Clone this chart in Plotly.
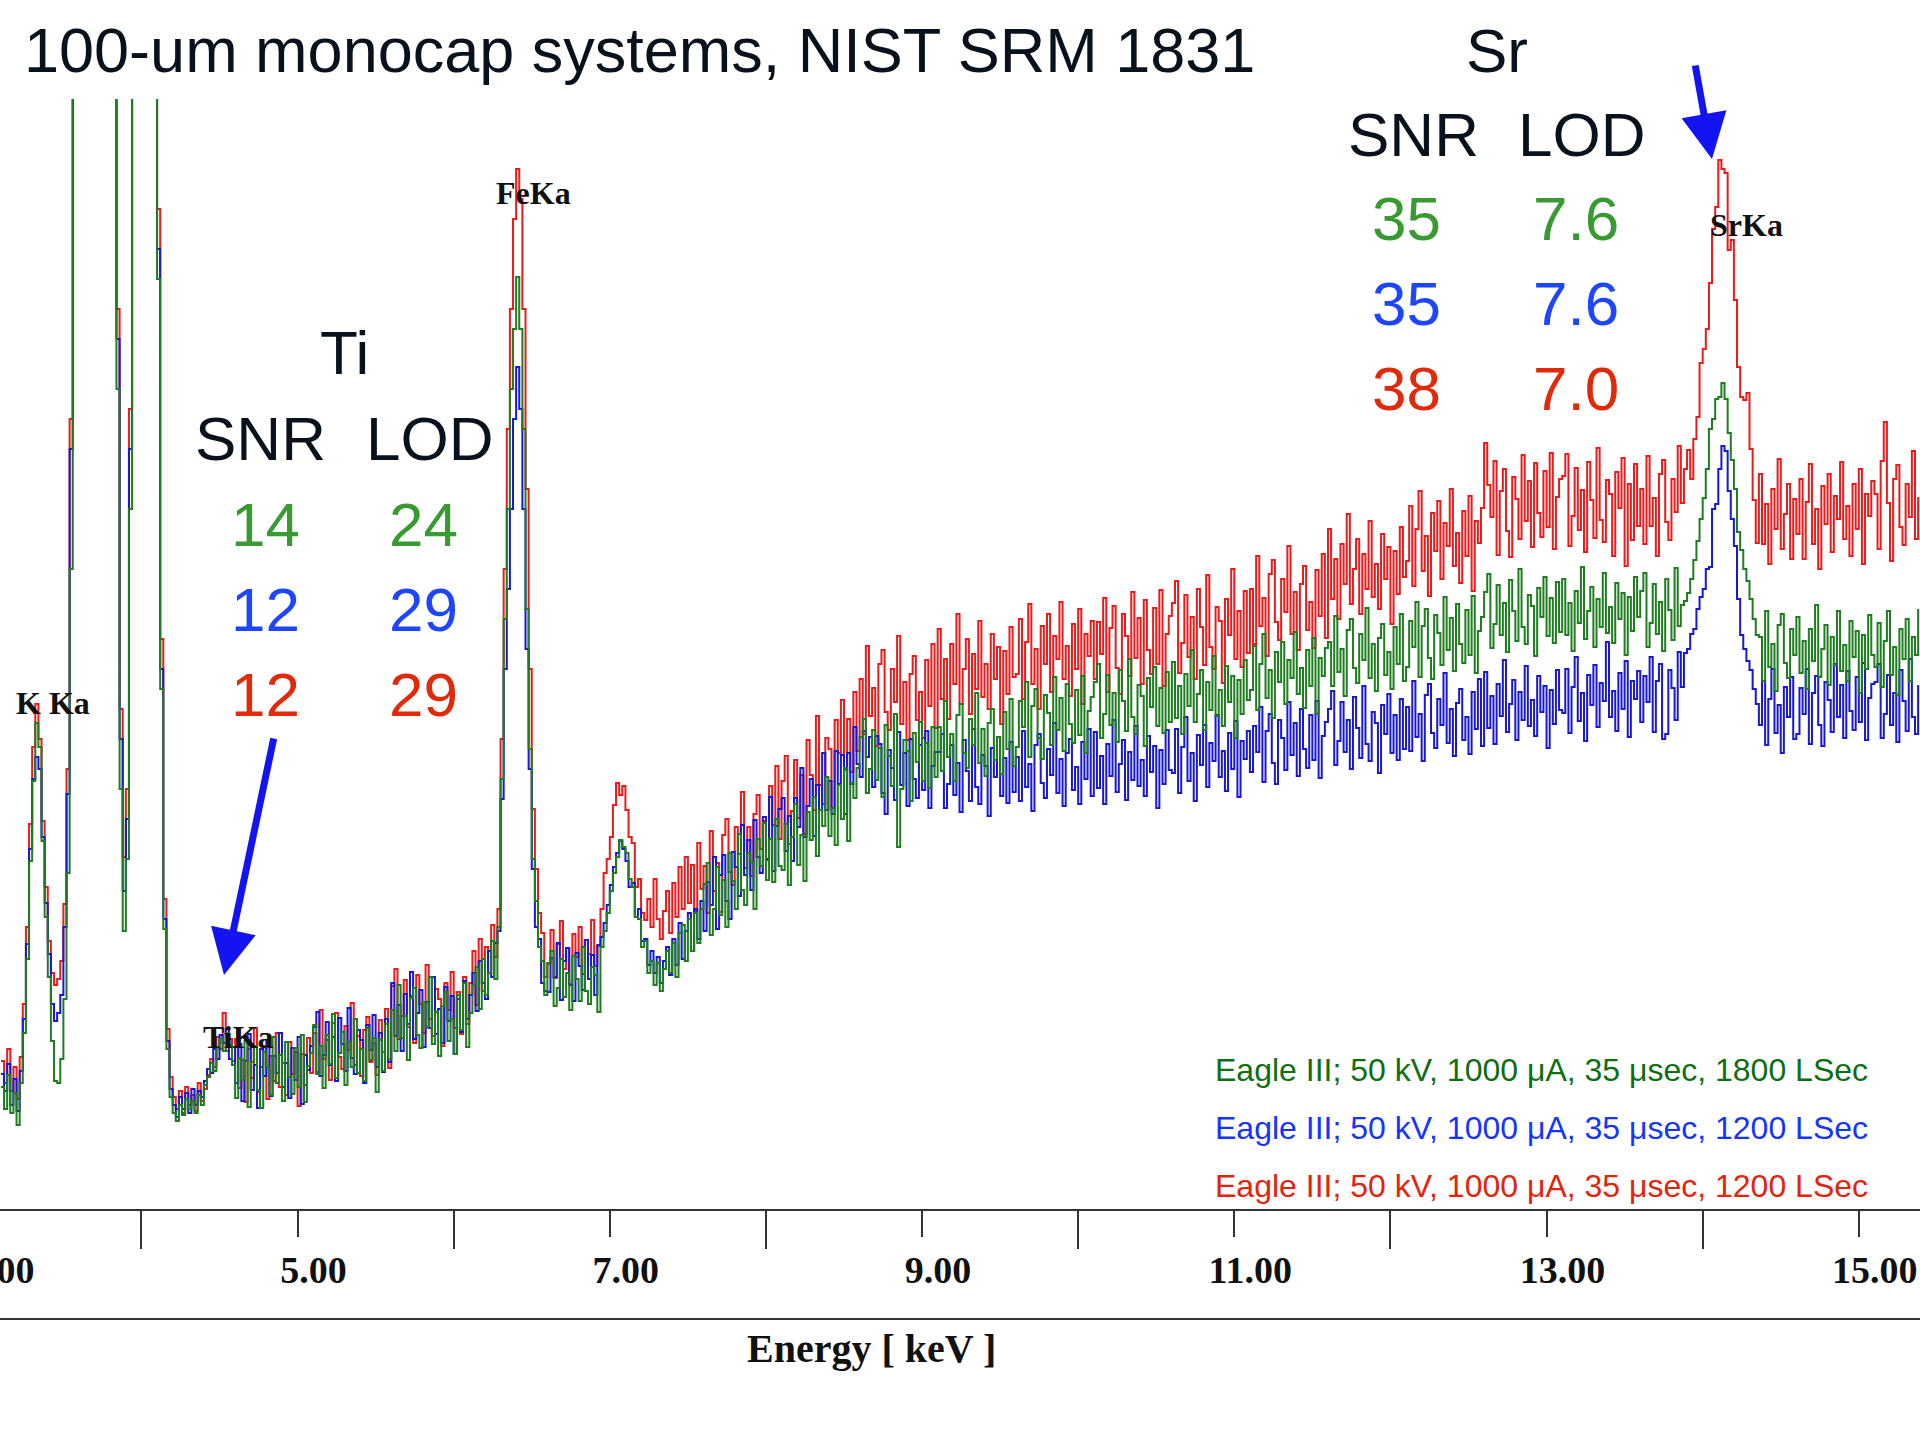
import numpy as np
import plotly.graph_objects as go

# Channel calibration of the three spectra (keV)
E_START = 3.10
E_STEP = 0.02

# Counts per channel, 3.10 keV .. 15.38 keV, one row per 0.5 keV
red_counts = [
    148, 126, 160, 118, 142, 110, 152, 205, 282, 385, 462, 505, 470, 388, 322, 268, 236, 224, 230, 248, 305, 440, 790, 1300, 1850,
    2500, 3200, 3800, 4200, 4350, 4250, 3900, 3400, 2800, 2200, 1700, 1280, 900, 500, 352, 420, 800, 1350, 1800, 2100, 2250, 2200, 1950, 1650, 1300,
    1000, 570, 310, 180, 132, 112, 100, 118, 96, 122, 104, 114, 98, 126, 108, 120, 134, 150, 142, 172, 160, 196, 158, 170, 148,
    170, 121, 149, 107, 160, 131, 181, 117, 142, 163, 110, 153, 128, 176, 122, 146, 114, 167, 135, 157, 103, 155, 124, 171, 136,
    176, 137, 199, 150, 169, 129, 186, 196, 152, 140, 183, 159, 206, 144, 173, 133, 179, 192, 147, 166, 134, 189, 157, 200, 141,
    223, 240, 170, 193, 229, 182, 213, 166, 234, 205, 176, 244, 190, 173, 220, 210, 163, 226, 199, 237, 181, 217, 175, 232, 185,
    226, 258, 204, 270, 218, 262, 236, 284, 252, 300, 470, 640, 780, 900, 990, 1040, 1010, 900, 720, 540, 400, 340, 296, 276, 232,
    246, 279, 231, 265, 288, 240, 261, 225, 275, 252, 282, 235, 269, 255, 289, 243, 263, 300, 336, 350, 372, 404, 426, 414, 423,
    399, 372, 366, 322, 330, 296, 289, 310, 282, 330, 290, 270, 298, 318, 276, 326, 292, 342, 300, 352, 306, 344, 298, 366, 320,
    343, 296, 378, 318, 346, 297, 374, 390, 337, 324, 382, 355, 417, 341, 382, 333, 395, 414, 360, 388, 349, 423, 384, 443, 370,
    428, 453, 365, 398, 449, 391, 434, 375, 469, 434, 399, 493, 424, 405, 471, 460, 401, 489, 456, 509, 439, 490, 437, 517, 458,
    530, 475, 563, 493, 521, 463, 545, 559, 497, 479, 540, 507, 573, 485, 527, 469, 535, 553, 489, 517, 471, 549, 503, 565, 481,
    580, 510, 550, 490, 565, 525, 595, 505, 540, 570, 495, 555, 520, 588, 512, 545, 500, 575, 530, 562, 485, 558, 515, 582, 532,
    535, 590, 510, 567, 605, 525, 560, 500, 583, 545, 595, 517, 573, 550, 607, 530, 563, 513, 585, 540, 600, 505, 575, 553, 588,
    530, 587, 555, 611, 517, 581, 603, 541, 515, 595, 573, 533, 617, 551, 591, 525, 609, 559, 535, 601, 545, 619, 523, 575, 593,
    606, 628, 536, 566, 614, 552, 592, 530, 620, 582, 544, 634, 562, 540, 602, 588, 526, 610, 574, 640, 550, 598, 542, 618, 556,
    620, 565, 653, 583, 611, 553, 635, 649, 587, 569, 630, 597, 663, 575, 617, 559, 625, 643, 579, 607, 561, 639, 593, 655, 571,
    680, 610, 650, 590, 665, 625, 695, 605, 640, 670, 595, 655, 620, 688, 612, 645, 600, 675, 630, 662, 585, 658, 615, 682, 632,
    648, 703, 623, 680, 718, 638, 673, 613, 696, 658, 708, 630, 686, 663, 720, 643, 676, 626, 698, 653, 713, 618, 688, 666, 701,
    766, 724, 692, 748, 654, 718, 740, 678, 652, 732, 710, 670, 754, 688, 728, 662, 746, 696, 672, 738, 682, 756, 660, 712, 730,
    733, 755, 663, 693, 741, 679, 719, 657, 747, 709, 671, 761, 689, 667, 729, 715, 653, 737, 701, 751, 643, 725, 669, 745, 683,
    720, 665, 753, 683, 711, 653, 735, 749, 687, 669, 730, 697, 763, 706, 740, 759, 730, 770, 792, 846, 860, 880, 926, 980, 1002,
    1049, 1040, 1036, 959, 969, 909, 842, 812, 809, 816, 760, 709, 666, 735, 665, 705, 645, 720, 680, 750, 660, 695, 725, 650, 710,
    675, 730, 650, 707, 745, 665, 700, 640, 723, 685, 735, 657, 713, 690, 747, 670, 703, 653, 725, 680, 740, 645, 715, 693, 728,
    715, 660, 748, 787, 706, 648, 730, 744, 682, 664, 725, 692, 758, 670, 712,
]

blue_counts = [
    135, 118, 145, 104, 130, 98, 138, 190, 265, 360, 430, 452, 440, 372, 306, 255, 205, 188, 196, 214, 282, 415, 760, 1250, 1800,
    2450, 3150, 3750, 4150, 4300, 4200, 3850, 3350, 2750, 2150, 1650, 1250, 870, 470, 318, 390, 760, 1300, 1750, 2050, 2200, 2150, 1900, 1600, 1260,
    960, 540, 290, 168, 120, 104, 92, 112, 100, 116, 96, 120, 104, 118, 112, 128, 140, 136, 160, 150, 174, 166, 180, 150, 162,
    126, 165, 108, 148, 175, 119, 144, 101, 160, 133, 168, 113, 153, 136, 176, 122, 146, 111, 161, 129, 172, 105, 154, 139, 163,
    182, 197, 133, 154, 187, 144, 172, 128, 191, 165, 138, 201, 151, 135, 179, 169, 126, 184, 159, 194, 142, 176, 137, 190, 147,
    226, 173, 204, 158, 215, 185, 237, 170, 196, 219, 162, 207, 181, 232, 175, 200, 166, 222, 188, 213, 155, 210, 177, 228, 190,
    214, 236, 198, 248, 226, 210, 258, 232, 266, 278, 410, 540, 620, 700, 790, 842, 800, 700, 560, 440, 340, 282, 270, 226, 218,
    217, 251, 232, 266, 209, 248, 261, 224, 208, 256, 243, 219, 269, 230, 254, 214, 264, 272, 286, 304, 324, 342, 356, 368, 360,
    348, 322, 326, 292, 300, 268, 270, 244, 258, 236, 252, 226, 248, 262, 234, 270, 244, 286, 250, 278, 296, 258, 300, 270, 308,
    278, 327, 304, 352, 280, 334, 354, 308, 290, 357, 342, 313, 384, 334, 369, 319, 389, 352, 336, 392, 350, 412, 338, 383, 400,
    411, 358, 393, 348, 411, 382, 441, 372, 403, 430, 373, 424, 399, 456, 399, 428, 395, 458, 425, 454, 395, 456, 425, 482, 445,
    432, 478, 452, 472, 422, 473, 465, 416, 395, 459, 441, 409, 477, 424, 456, 403, 470, 430, 411, 464, 419, 478, 401, 443, 457,
    457, 475, 401, 425, 464, 414, 446, 397, 469, 438, 408, 480, 422, 405, 454, 443, 393, 461, 432, 472, 413, 451, 406, 467, 417,
    452, 408, 478, 422, 445, 398, 464, 475, 426, 411, 460, 434, 486, 416, 450, 403, 456, 470, 419, 442, 405, 467, 430, 480, 413,
    477, 421, 453, 405, 465, 433, 489, 417, 445, 469, 409, 457, 429, 483, 423, 449, 413, 473, 437, 463, 401, 459, 425, 479, 439,
    436, 480, 416, 462, 492, 428, 456, 408, 474, 444, 484, 422, 466, 448, 494, 432, 458, 418, 476, 440, 488, 412, 468, 450, 478,
    437, 483, 457, 502, 427, 478, 495, 446, 425, 489, 471, 439, 507, 454, 486, 433, 500, 460, 441, 494, 449, 508, 431, 473, 487,
    500, 518, 444, 468, 507, 457, 489, 440, 512, 481, 451, 523, 465, 448, 497, 486, 436, 504, 475, 515, 456, 494, 449, 510, 460,
    502, 458, 528, 472, 495, 448, 514, 525, 476, 461, 510, 484, 536, 466, 500, 453, 506, 520, 469, 492, 455, 517, 480, 530, 463,
    537, 481, 513, 465, 525, 493, 549, 477, 505, 529, 469, 517, 489, 543, 483, 509, 473, 533, 497, 523, 461, 519, 485, 539, 499,
    496, 540, 476, 522, 552, 488, 516, 468, 534, 504, 544, 482, 526, 508, 567, 492, 518, 478, 536, 500, 548, 472, 528, 510, 538,
    487, 533, 507, 552, 477, 528, 545, 470, 475, 539, 521, 489, 557, 522, 556, 560, 575, 580, 600, 612, 620, 640, 642, 700, 705,
    740, 763, 758, 718, 690, 663, 610, 574, 560, 548, 539, 520, 505, 484, 528, 464, 510, 540, 476, 504, 456, 522, 492, 532, 470,
    475, 521, 495, 540, 465, 516, 533, 484, 463, 527, 509, 477, 545, 492, 524, 471, 538, 498, 479, 532, 487, 546, 469, 511, 525,
    527, 545, 471, 495, 534, 484, 516, 467, 539, 508, 478, 550, 492, 475, 524,
]

green_counts = [
    122, 100, 134, 96, 116, 84, 126, 176, 250, 348, 428, 486, 462, 368, 292, 232, 168, 128, 126, 150, 210, 336, 640, 1120, 1700,
    2400, 3100, 3700, 4100, 4250, 4150, 3800, 3300, 2700, 2100, 1600, 1200, 820, 420, 278, 350, 700, 1250, 1700, 2000, 2150, 2100, 1850, 1550, 1220,
    930, 520, 280, 160, 112, 96, 88, 104, 94, 110, 100, 108, 96, 114, 104, 124, 132, 146, 138, 162, 170, 158, 176, 164, 144,
    111, 151, 129, 168, 102, 147, 163, 119, 101, 157, 142, 114, 172, 126, 154, 108, 167, 132, 115, 161, 122, 174, 107, 143, 156,
    184, 135, 163, 121, 174, 145, 195, 131, 156, 177, 124, 167, 142, 190, 136, 160, 128, 181, 149, 171, 117, 169, 138, 185, 150,
    199, 158, 224, 171, 193, 149, 211, 221, 174, 161, 207, 182, 232, 165, 197, 153, 203, 217, 168, 190, 155, 214, 179, 226, 162,
    196, 224, 242, 200, 250, 214, 236, 268, 230, 282, 430, 590, 700, 820, 880, 932, 880, 780, 600, 460, 350, 308, 262, 248, 214,
    245, 258, 203, 221, 250, 212, 236, 199, 253, 230, 208, 262, 218, 205, 242, 234, 197, 262, 278, 296, 318, 336, 352, 369, 362,
    356, 330, 322, 292, 290, 262, 268, 236, 248, 224, 246, 218, 240, 258, 236, 266, 232, 276, 284, 248, 290, 258, 296, 266, 300,
    325, 346, 274, 300, 342, 294, 329, 282, 356, 328, 300, 375, 319, 304, 356, 347, 300, 370, 343, 386, 329, 370, 327, 390, 343,
    339, 385, 324, 372, 405, 344, 374, 328, 397, 369, 412, 353, 399, 383, 432, 373, 401, 364, 424, 390, 441, 368, 426, 411, 441,
    472, 490, 416, 440, 479, 429, 461, 412, 484, 453, 423, 495, 362, 420, 469, 458, 408, 476, 447, 487, 428, 466, 421, 482, 432,
    482, 438, 508, 452, 475, 428, 494, 505, 456, 441, 490, 464, 516, 446, 480, 433, 486, 500, 449, 472, 435, 497, 460, 510, 443,
    462, 508, 482, 527, 452, 503, 520, 471, 450, 514, 496, 464, 532, 479, 511, 458, 525, 485, 466, 519, 474, 533, 456, 498, 512,
    527, 545, 471, 495, 534, 484, 516, 467, 539, 508, 478, 550, 492, 475, 524, 513, 463, 531, 502, 542, 483, 521, 476, 537, 487,
    547, 491, 523, 475, 535, 503, 559, 487, 515, 539, 479, 527, 499, 553, 493, 519, 483, 543, 507, 533, 471, 529, 495, 549, 509,
    519, 563, 499, 545, 575, 511, 539, 491, 557, 527, 567, 505, 549, 531, 577, 515, 541, 501, 559, 523, 571, 495, 551, 533, 561,
    567, 523, 593, 537, 560, 513, 579, 590, 541, 526, 575, 549, 601, 531, 565, 518, 571, 585, 534, 557, 520, 582, 545, 595, 528,
    542, 588, 562, 607, 532, 583, 600, 551, 530, 594, 576, 544, 612, 559, 591, 538, 605, 565, 546, 599, 554, 613, 536, 578, 592,
    617, 635, 561, 585, 624, 574, 606, 557, 629, 598, 568, 640, 582, 565, 614, 603, 553, 621, 592, 632, 573, 611, 566, 627, 577,
    630, 574, 606, 558, 618, 586, 642, 570, 598, 622, 562, 610, 582, 636, 576, 602, 566, 626, 590, 616, 554, 612, 578, 632, 592,
    618, 636, 562, 586, 625, 575, 607, 558, 630, 599, 569, 641, 583, 604, 608, 616, 630, 649, 668, 690, 711, 740, 780, 790, 810,
    812, 826, 810, 776, 749, 720, 677, 659, 640, 628, 610, 590, 574, 572, 528, 598, 542, 565, 518, 584, 595, 546, 531, 580, 554,
    592, 536, 568, 520, 580, 548, 604, 532, 560, 584, 524, 572, 544, 598, 538, 564, 528, 588, 552, 578, 516, 574, 540, 594, 554,
    542, 586, 522, 568, 598, 534, 562, 514, 580, 550, 590, 528, 572, 554, 600,
]

# Acquisition settings shown under the spectra
settings = [
    ("Eagle III; 50 kV, 1000 μA, 35 μsec, 1800 LSec", "#0d6e12"),
    ("Eagle III; 50 kV, 1000 μA, 35 μsec, 1200 LSec", "#1434ff"),
    ("Eagle III; 50 kV, 1000 μA, 35 μsec, 1200 LSec", "#e2240c"),
]

# Figures of merit per element (green, blue, red runs)
ti_snr = ["14", "12", "12"]
ti_lod = ["24", "29", "29"]
sr_snr = ["35", "35", "38"]
sr_lod = ["7.6", "7.6", "7.0"]
stat_colors = ["#3a9a32", "#1e46ff", "#e02a0a"]

peak_labels = [("K Ka", 53, 703), ("FeKa", 533, 193), ("TiKa", 238, 1037), ("SrKa", 1746, 225)]

X_RANGE = [3.094, 15.392]
Y_RANGE = [0, 1110]

W, H = 1920, 1440
PLOT_TOP, PLOT_BOTTOM = 99, 1209
PX_PER_KEV = 156.1
LABEL_SHIFT = 16  # tick labels sit slightly right of their ticks

SANS = "Liberation Sans, Arial, sans-serif"
SERIF = "Liberation Serif, Times New Roman, serif"
INK = "#08121c"


def energies(counts):
    return np.round(E_START + E_STEP * np.arange(len(counts)), 3)


def fx(px):
    return px / W


def fy(py):
    return (PLOT_BOTTOM - py) / (PLOT_BOTTOM - PLOT_TOP)


def label(text, x, y, size, color=INK, family=SANS, weight="normal", xanchor="center"):
    return dict(
        text=text, x=fx(x), y=fy(y), xref="paper", yref="paper",
        xanchor=xanchor, yanchor="middle", showarrow=False,
        font=dict(family=family, size=size, color=color, weight=weight),
    )


fig = go.Figure()
for counts, color in [(red_counts, "#e81c1c"), (blue_counts, "#1818d0"), (green_counts, "#1e7d1e")]:
    fig.add_trace(go.Scatter(
        x=energies(counts), y=counts, mode="lines",
        line=dict(color=color, width=2, shape="hv"),
        hoverinfo="skip",
    ))

annotations = []
annotations.append(label("100-um monocap systems, NIST SRM 1831", 22, 50, 63, xanchor="left"))

# Ti block
annotations.append(label("Ti", 344, 352, 62))
annotations.append(label("SNR", 260, 438, 62))
annotations.append(label("LOD", 429, 438, 62))
for i, (s, l, c) in enumerate(zip(ti_snr, ti_lod, stat_colors)):
    annotations.append(label(s, 265, 524 + 85 * i, 62, color=c))
    annotations.append(label(l, 423, 524 + 85 * i, 62, color=c))

# Sr block
annotations.append(label("Sr", 1497, 50, 62))
annotations.append(label("SNR", 1413, 134, 62))
annotations.append(label("LOD", 1581, 134, 62))
for i, (s, l, c) in enumerate(zip(sr_snr, sr_lod, stat_colors)):
    annotations.append(label(s, 1406, 218 + 85 * i, 62, color=c))
    annotations.append(label(l, 1576, 218 + 85 * i, 62, color=c))

for text, x, y in peak_labels:
    annotations.append(label(text, x, y, 32, color="#111111", family=SERIF, weight="bold"))

for i, (text, color) in enumerate(settings):
    annotations.append(label(text, 1870, 1070 + 58 * i, 32, color=color, xanchor="right"))

annotations.append(label("Energy [ keV ]", 871, 1348, 40, color="#111111", family=SERIF, weight="bold"))

# first tick label, cut by the left edge of the page
x_3kev = (3.0 - X_RANGE[0]) * PX_PER_KEV + LABEL_SHIFT
annotations.append(label("3.00", x_3kev, 1270, 38, color="#111111", family=SERIF, weight="bold"))

# pointer arrows to the Ti and Sr lines
for tip, tail in [((224, 975), (274, 737)), ((1712, 159), (1695, 64))]:
    annotations.append(dict(
        text="", x=fx(tip[0]), y=fy(tip[1]), xref="paper", yref="paper",
        ax=tail[0] - tip[0], ay=tail[1] - tip[1], axref="pixel", ayref="pixel",
        showarrow=True, arrowhead=2, arrowsize=1.3, arrowwidth=7,
        arrowcolor="#1414f0", standoff=0,
    ))

fig.update_layout(
    width=W, height=H,
    margin=dict(l=0, r=0, t=PLOT_TOP, b=H - PLOT_BOTTOM, pad=0),
    paper_bgcolor="white", plot_bgcolor="white",
    showlegend=False,
    annotations=annotations,
    shapes=[dict(type="line", xref="paper", yref="paper", x0=0, x1=1,
                 y0=fy(1319), y1=fy(1319), line=dict(color="#333333", width=2))],
    xaxis=dict(
        range=X_RANGE, showgrid=False, zeroline=False,
        showline=True, linecolor="#333333", linewidth=2,
        tickmode="linear", tick0=1, dtick=2, tickformat=".2f",
        ticks="outside", ticklen=26, tickwidth=1.5, tickcolor="#333333",
        ticklabelstandoff=0, ticklabelshift=LABEL_SHIFT,
        tickfont=dict(family=SERIF, size=38, color="#111111", weight="bold"),
        minor=dict(dtick=1, tick0=0, ticks="outside", ticklen=38, tickwidth=1.5, tickcolor="#333333"),
    ),
    yaxis=dict(range=Y_RANGE, visible=False, fixedrange=True),
)

fig.write_html("out.html")
